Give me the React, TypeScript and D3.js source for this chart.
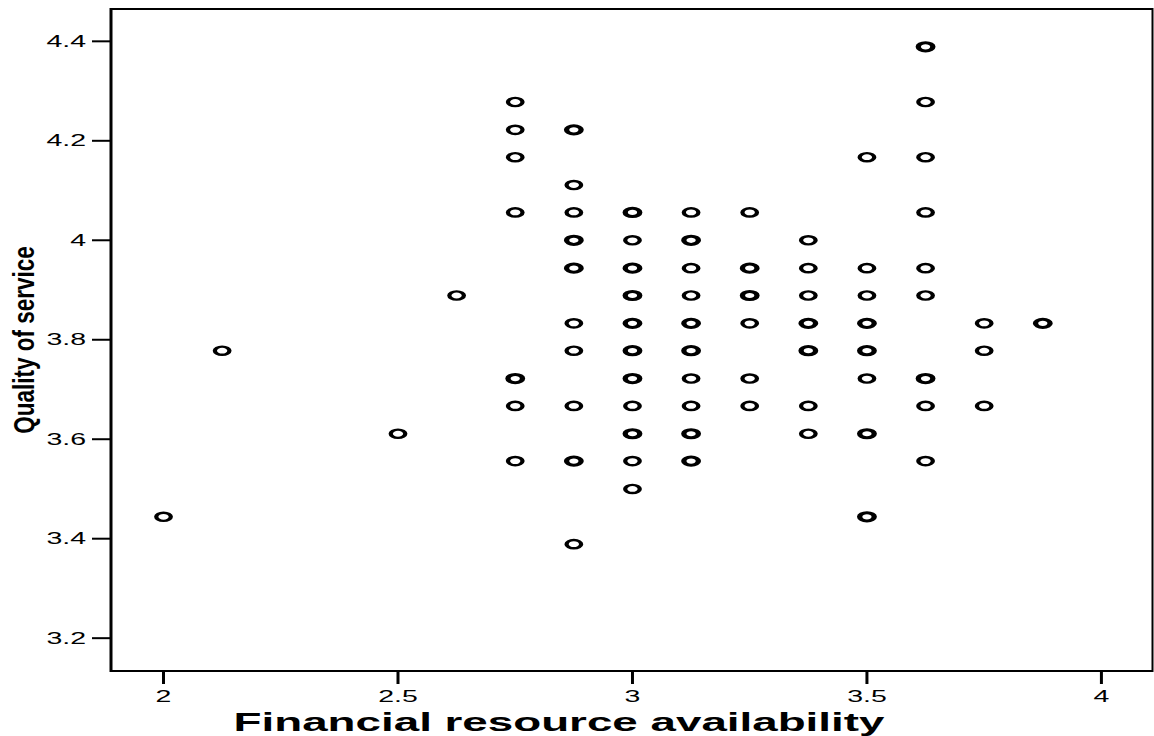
import React from "react";
import * as d3 from "d3";

// Data: financial resource availability (x), quality of service (y), n = overlapping cases
const xs = [
  2, 2.125, 2.5, 2.625,
  2.75, 2.75, 2.75, 2.75, 2.75, 2.75, 2.75,
  2.875, 2.875, 2.875, 2.875, 2.875, 2.875, 2.875, 2.875, 2.875, 2.875,
  3, 3, 3, 3, 3, 3, 3, 3, 3, 3, 3,
  3.125, 3.125, 3.125, 3.125, 3.125, 3.125, 3.125, 3.125, 3.125, 3.125,
  3.25, 3.25, 3.25, 3.25, 3.25, 3.25,
  3.375, 3.375, 3.375, 3.375, 3.375, 3.375, 3.375,
  3.5, 3.5, 3.5, 3.5, 3.5, 3.5, 3.5, 3.5,
  3.625, 3.625, 3.625, 3.625, 3.625, 3.625, 3.625, 3.625, 3.625,
  3.75, 3.75, 3.75,
  3.875,
];
const ys = [
  3.444, 3.778, 3.611, 3.889,
  4.278, 4.222, 4.167, 4.056, 3.722, 3.667, 3.556,
  4.222, 4.111, 4.056, 4.0, 3.944, 3.833, 3.778, 3.667, 3.556, 3.389,
  4.056, 4.0, 3.944, 3.889, 3.833, 3.778, 3.722, 3.667, 3.611, 3.556, 3.5,
  4.056, 4.0, 3.944, 3.889, 3.833, 3.778, 3.722, 3.667, 3.611, 3.556,
  4.056, 3.944, 3.889, 3.833, 3.722, 3.667,
  4.0, 3.944, 3.889, 3.833, 3.778, 3.667, 3.611,
  4.167, 3.944, 3.889, 3.833, 3.778, 3.722, 3.611, 3.444,
  4.389, 4.278, 4.167, 4.056, 3.944, 3.889, 3.722, 3.667, 3.556,
  3.833, 3.778, 3.667,
  3.833,
];
const counts = [
  1, 1, 1, 1,
  1, 1, 1, 1, 2, 1, 1,
  2, 1, 1, 2, 2, 1, 1, 1, 2, 1,
  2, 1, 2, 2, 2, 2, 2, 1, 2, 1, 1,
  1, 2, 1, 1, 2, 2, 1, 1, 2, 2,
  1, 2, 2, 1, 1, 1,
  1, 1, 1, 2, 2, 1, 1,
  1, 1, 1, 2, 2, 1, 2, 2,
  2, 1, 1, 1, 1, 1, 2, 1, 1,
  1, 1, 1,
  2,
];

const xTicks = [2, 2.5, 3, 3.5, 4];
const yTicks = [3.2, 3.4, 3.6, 3.8, 4.0, 4.2, 4.4];
const xTitle = "Financial resource availability";
const yTitle = "Quality of service";

const W = 1154;
const H = 736;
const L = 111, R = 1153, T = 9, B = 671;
const SX = 1.78; // horizontal stretch of the original rendering
const FONT = "'Liberation Sans', Arial, Helvetica, sans-serif";

export default function App() {
  const x = d3.scaleLinear().domain([1.888, 4.11]).range([L, R]);
  const y = d3.scaleLinear().domain([3.134, 4.465]).range([B, T]);
  const fmt = (v: number) => d3.format("")(+v.toFixed(1));

  return (
    <svg
      width={W}
      height={H}
      style={{ position: "absolute", left: 0, top: 0, background: "#fff" }}
    >
      <rect x={0} y={0} width={W} height={H} fill="#fff" />
      {/* frame */}
      <line x1={L} x2={R} y1={T} y2={T} stroke="#000" strokeWidth={2} />
      <line x1={L} x2={R} y1={B} y2={B} stroke="#000" strokeWidth={2} />
      <line x1={L} x2={L} y1={T - 1} y2={B + 1} stroke="#000" strokeWidth={3} />
      <line x1={R - 0.5} x2={R - 0.5} y1={T - 1} y2={B + 1} stroke="#000" strokeWidth={2} />

      {/* y ticks */}
      {yTicks.map((t) => (
        <g key={"y" + t}>
          <line x1={L - 19} x2={L} y1={y(t)} y2={y(t)} stroke="#000" strokeWidth={2} />
          <text
            transform={`translate(${L - 25},${y(t)}) scale(${SX},1)`}
            textAnchor="end"
            dominantBaseline="central"
            fontFamily={FONT}
            fontSize={16}
            fill="#000"
          >
            {fmt(t)}
          </text>
        </g>
      ))}

      {/* x ticks */}
      {xTicks.map((t) => (
        <g key={"x" + t}>
          <line x1={x(t)} x2={x(t)} y1={B} y2={B + 13} stroke="#000" strokeWidth={3} />
          <text
            transform={`translate(${x(t)},${B + 31}) scale(${SX},1)`}
            textAnchor="middle"
            fontFamily={FONT}
            fontSize={16}
            fill="#000"
          >
            {fmt(t)}
          </text>
        </g>
      ))}

      {/* points */}
      {xs.map((xv, i) => (
        <circle
          key={"p" + i}
          transform={`translate(${x(xv)},${y(ys[i])}) scale(${SX},1)`}
          r={4.1}
          fill="none"
          stroke="#000"
          strokeWidth={counts[i] > 1 ? 3.0 : 2.4}
        />
      ))}

      {/* axis titles */}
      <text
        transform={`translate(559,731) scale(1.83,1)`}
        textAnchor="middle"
        fontFamily={FONT}
        fontWeight="bold"
        fontSize={25}
        fill="#000"
      >
        {xTitle}
      </text>
      <text
        transform={`translate(24,340) scale(1.3,1) rotate(-90)`}
        textAnchor="middle"
        dominantBaseline="central"
        fontFamily={FONT}
        fontWeight="bold"
        fontSize={22.5}
        fill="#000"
      >
        {yTitle}
      </text>
    </svg>
  );
}
